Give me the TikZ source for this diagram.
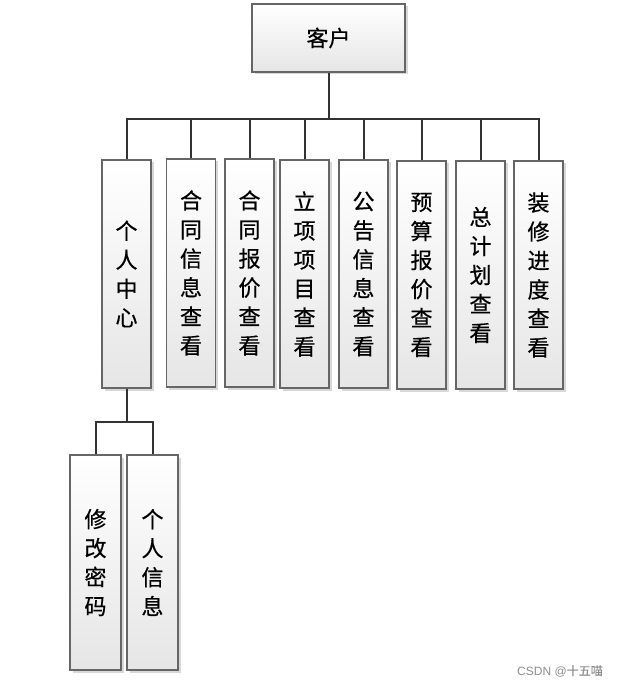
\documentclass[tikz,border=0pt]{standalone}
\usepackage{fontspec}
\newfontfamily\cjk[FakeBold=0.6]{Noto Sans CJK SC}
\usetikzlibrary{shadows}

\begin{document}
\begin{tikzpicture}[x=1pt, y=-1pt,
    box/.style={draw=black!60, line width=1.1pt, top color=white, bottom color=black!10,
      drop shadow={shadow xshift=2.5pt, shadow yshift=-2.5pt, fill=black!30, opacity=0.5},
      font=\cjk\fontsize{22}{29}\selectfont, align=center, inner sep=0pt},
    col/.style={box, minimum width=49pt, minimum height=228pt},
    link/.style={draw=black!80, line width=2pt}]
  \useasboundingbox (0,0) rectangle (624,687);

  \node[box, minimum width=153pt, minimum height=68pt] (kehu) at (328.5,38) {客户};

  \node[col] (grzx) at (126.5,274) {个\\人\\中\\心};
  \node[col] (htxx) at (191,273) {合\\同\\信\\息\\查\\看};
  \node[col] (htbj) at (249.5,273) {合\\同\\报\\价\\查\\看};
  \node[col] (lxxm) at (304.5,274) {立\\项\\项\\目\\查\\看};
  \node[col] (ggxx) at (363.5,274) {公\\告\\信\\息\\查\\看};
  \node[col] (ysbj) at (421.5,275) {预\\算\\报\\价\\查\\看};
  \node[col] (zjh)  at (480.5,275) {总\\计\\划\\查\\看};
  \node[col] (zxjd) at (538.5,275) {装\\修\\进\\度\\查\\看};

  \node[box, minimum width=51pt, minimum height=215pt] (xgmm) at (95.5,562.5) {修\\改\\密\\码};
  \node[box, minimum width=51pt, minimum height=215pt] (grxx) at (152.5,562.5) {个\\人\\信\\息};

  % connectors
  \coordinate (bus) at (328.5,119);
  \coordinate (sub) at (126.5,422);
  \draw[link] (kehu.south) -- (bus);
  \foreach \n in {grzx,htxx,htbj,lxxm,ggxx,ysbj,zjh,zxjd}
    \draw[link] (\n.north) |- (bus);
  \draw[link] (grzx.south) -- (sub);
  \foreach \n in {xgmm,grxx}
    \draw[link] (\n.north) |- (sub);

  \node[text=black!45, font=\fontspec{Liberation Sans}\fontsize{12}{14}\selectfont] (mark) at (560,671) {CSDN @{\cjk 十五喵}};
\end{tikzpicture}
\end{document}
